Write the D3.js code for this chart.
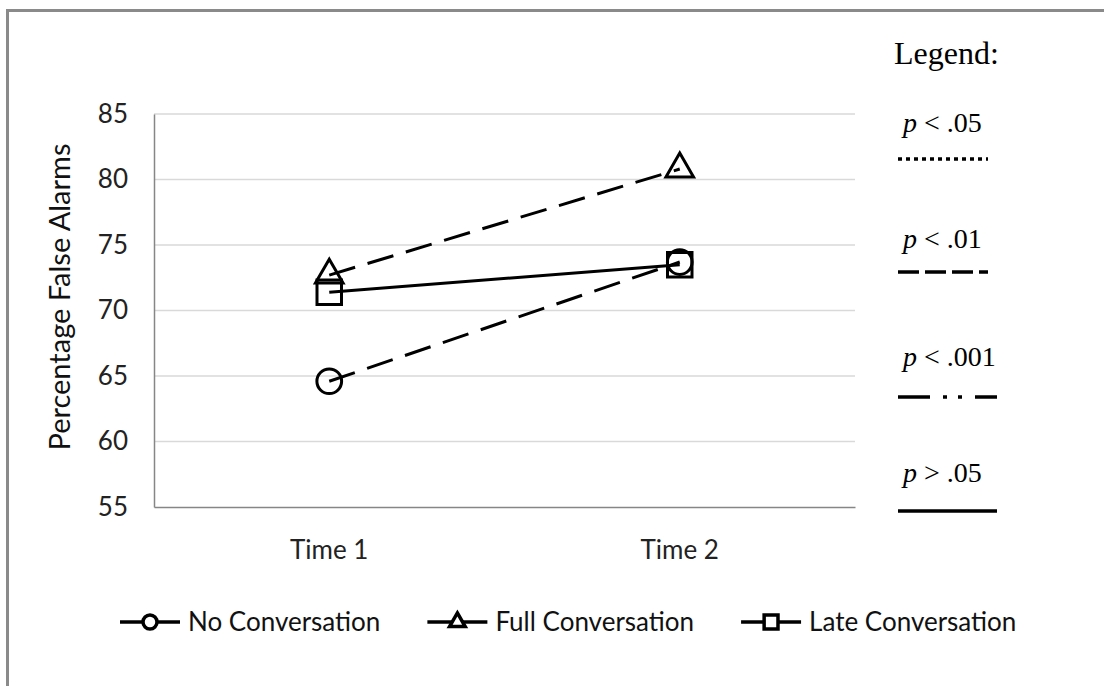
<!DOCTYPE html>
<html>
<head>
<meta charset="utf-8">
<script src="https://cdn.jsdelivr.net/npm/d3@7"></script>
<style>
  html, body { margin: 0; padding: 0; background: #fff; }
  svg { display: block; }
</style>
</head>
<body>
<div id="chart"></div>
<script>
(function() {
    // données
    const categories = ["Time 1", "Time 2"];
    const yTicks = [55, 60, 65, 70, 75, 80, 85];
    const seriesNames = ["No Conversation", "Full Conversation", "Late Conversation"];
    const noConversation = [64.6, 73.7];
    const fullConversation = [72.7, 80.8];
    const lateConversation = [71.4, 73.5];
    const sigLabels = [".05", ".01", ".001", ".05"];
    const sigSigns = ["<", "<", "<", ">"];

    const width = 1104, height = 686;
    const font = "Lato, 'Open Sans', sans-serif";
    const serif = "'Liberation Serif', 'DejaVu Serif', serif";

    const svg = d3.select("#chart").append("svg")
        .attr("width", width).attr("height", height);

    // cadre gris (ouvert à droite et en bas)
    svg.append("path")
        .attr("d", `M7.5,${height + 5} V10.5 H${width + 5}`)
        .attr("fill", "none").attr("stroke", "#8a8a8a").attr("stroke-width", 3);

    const x = d3.scaleBand().domain(categories).range([154, 855]);
    const y = d3.scaleLinear().domain([55, 85]).range([507, 114]);
    const cx = c => x(c) + x.bandwidth() / 2;

    // grille
    svg.append("g").selectAll("line")
        .data(yTicks.filter(t => t > 55))
        .join("line")
        .attr("x1", 154).attr("x2", 855)
        .attr("y1", d => y(d)).attr("y2", d => y(d))
        .attr("stroke", "#d9d9d9").attr("stroke-width", 1.5);

    // axes
    const yAxis = svg.append("g")
        .attr("transform", "translate(154,0)")
        .call(d3.axisLeft(y).tickValues(yTicks).tickSize(0).tickPadding(26));
    yAxis.select(".domain").attr("stroke", "#868686").attr("stroke-width", 1.5);
    yAxis.selectAll("text").attr("font-family", font).attr("font-size", 26).attr("fill", "#222");

    const xAxis = svg.append("g")
        .attr("transform", "translate(0,507)")
        .call(d3.axisBottom(x).tickSize(0).tickPadding(34));
    xAxis.select(".domain").attr("stroke", "#868686").attr("stroke-width", 1.5);
    xAxis.selectAll("text").attr("font-family", font).attr("font-size", 26).attr("fill", "#222");

    svg.append("text")
        .attr("transform", "translate(70,297) rotate(-90)")
        .attr("text-anchor", "middle")
        .attr("font-family", font).attr("font-size", 29).attr("fill", "#111")
        .text("Percentage False Alarms");

    // séries
    const series = [
        { name: seriesNames[0], values: noConversation, dash: "27,13", marker: "circle" },
        { name: seriesNames[1], values: fullConversation, dash: "27,13", marker: "triangle" },
        { name: seriesNames[2], values: lateConversation, dash: null, marker: "square" }
    ];

    const line = d3.line().x((d, i) => cx(categories[i])).y(d => y(d));

    svg.append("g").selectAll("path")
        .data(series)
        .join("path")
        .attr("d", d => line(d.values))
        .attr("fill", "none").attr("stroke", "#000").attr("stroke-width", 3)
        .attr("stroke-dasharray", d => d.dash);

    const symbolType = { circle: d3.symbolCircle, triangle: d3.symbolTriangle, square: d3.symbolSquare };
    const symbolSize = { circle: 480, triangle: 330, square: 600 };

    series.forEach(s => {
        svg.append("g").selectAll("path")
            .data(s.values)
            .join("path")
            .attr("transform", (d, i) => `translate(${cx(categories[i])},${y(d)})`)
            .attr("d", d3.symbol(symbolType[s.marker], symbolSize[s.marker]))
            .attr("fill", "none").attr("stroke", "#000").attr("stroke-width", 3);
    });

    // légende du bas
    const leg = svg.append("g");
    let lx = 120;
    const ly = 622;
    series.forEach(s => {
        const item = leg.append("g").attr("transform", `translate(${lx},${ly})`);
        item.append("line").attr("x1", 0).attr("x2", 60).attr("y1", 0).attr("y2", 0)
            .attr("stroke", "#000").attr("stroke-width", 3.5);
        item.append("path")
            .attr("transform", "translate(30,0)")
            .attr("d", d3.symbol(symbolType[s.marker], symbolSize[s.marker] * 0.32))
            .attr("fill", "#fff").attr("stroke", "#000").attr("stroke-width", 3.5);
        const t = item.append("text")
            .attr("x", 68).attr("y", 9)
            .attr("font-family", font).attr("font-size", 26).attr("fill", "#111")
            .text(s.name);
        lx += 68 + t.node().getComputedTextLength() + 47;
    });

    // légende de significativité (droite)
    svg.append("text")
        .attr("x", 894).attr("y", 64)
        .attr("font-family", serif).attr("font-size", 32).attr("fill", "#000")
        .text("Legend:");

    const sigY = [132, 248, 366, 482];
    const lineY = [159, 272, 397, 511];
    const sigDash = ["4,4", "21,6", "32,13,4,11,4,13", null];
    const sigEnd = [988, 988, 997, 997];

    sigLabels.forEach((lab, i) => {
        const t = svg.append("text")
            .attr("x", 903).attr("y", sigY[i])
            .attr("font-family", serif).attr("font-size", 28).attr("fill", "#000");
        t.append("tspan").attr("font-style", "italic").text("p");
        t.append("tspan").text(` ${sigSigns[i]} ${lab}`);
        svg.append("line")
            .attr("x1", 898).attr("x2", sigEnd[i])
            .attr("y1", lineY[i]).attr("y2", lineY[i])
            .attr("stroke", "#000").attr("stroke-width", 3.5)
            .attr("stroke-dasharray", sigDash[i]);
    });
})();
</script>
</body>
</html>
